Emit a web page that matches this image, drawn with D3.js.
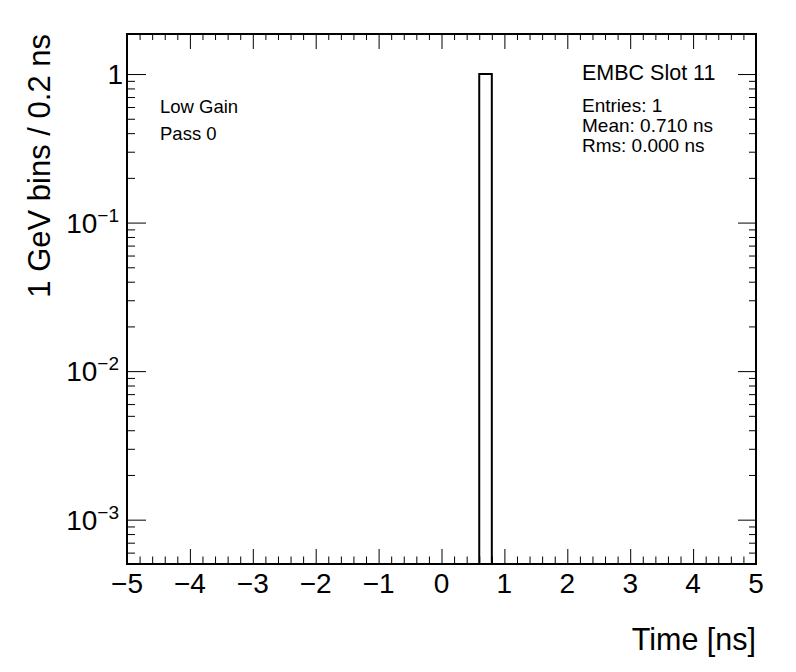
<!DOCTYPE html>
<html>
<head>
<meta charset="utf-8">
<script src="https://cdn.jsdelivr.net/npm/d3@7"></script>
<style>
  body { margin: 0; background: #fff; }
  svg { display: block; font-family: "Liberation Sans", Arial, Helvetica, sans-serif; }
  .frame { fill: none; stroke: #000; stroke-width: 2; }
  .axis path { display: none; }
  .axis line { stroke: #000; stroke-width: 1; }
</style>
</head>
<body>
<svg id="chart" width="796" height="672"></svg>
<script>
// histogram: 50 bins of 0.2 ns from -5 to 5, only one bin filled
const binStarts = [0.6]
const binEnds = [0.8]
const binCounts = [1]

const xMajorTicks = [-5, -4, -3, -2, -1, 0, 1, 2, 3, 4, 5]
const yDecades = [-3, -2, -1, 0]
const xDomain = [-5, 5]
const yDomain = [0.000503, 1.86]

const labelLines = ['Low Gain', 'Pass 0']
const statsTitle = 'EMBC Slot 11'
const statsLines = ['Entries: 1', 'Mean: 0.710 ns', 'Rms: 0.000 ns']

const xTitle = 'Time [ns]'
const yTitle = '1 GeV bins / 0.2 ns'

const margin = { left: 127, right: 40, top: 34, bottom: 108 }
const width = 796
const height = 672

const svg = d3.select('#chart')

const xScale = d3.scaleLinear().domain(xDomain).range([margin.left, width - margin.right])
const yScale = d3.scaleLog().domain(yDomain).range([height - margin.bottom, margin.top])

const x0 = xScale.range()[0], x1 = xScale.range()[1]
const yBot = yScale.range()[0], yTop = yScale.range()[1]

// minor ticks
const xMinor = d3.range(-25, 26).map((i) => i / 5).filter((v) => !Number.isInteger(v))
const yMajor = yDecades.map((p) => Math.pow(10, p))
const yMinor = []
for (let p = -4; p <= 0; p++) {
  for (let m = 2; m <= 9; m++) {
    const v = m * Math.pow(10, p)
    if (v >= yDomain[0] && v <= yDomain[1]) yMinor.push(v)
  }
}

function tickAxis(axisFn, scale, values, size, tx, ty) {
  svg.append('g')
    .attr('class', 'axis')
    .attr('transform', `translate(${tx}, ${ty})`)
    .call(axisFn(scale).tickValues(values).tickSize(size).tickFormat(''))
}

// bottom & top ticks (pointing inside)
tickAxis(d3.axisBottom, xScale, xMajorTicks, -15, 0, yBot)
tickAxis(d3.axisBottom, xScale, xMinor, -7.5, 0, yBot)
tickAxis(d3.axisTop, xScale, xMajorTicks, -15, 0, yTop)
tickAxis(d3.axisTop, xScale, xMinor, -6, 0, yTop)

// left & right ticks
tickAxis(d3.axisLeft, yScale, yMajor, -19, x0, 0)
tickAxis(d3.axisLeft, yScale, yMinor, -8, x0, 0)
tickAxis(d3.axisRight, yScale, yMajor, -18, x1, 0)
tickAxis(d3.axisRight, yScale, yMinor, -7, x1, 0)

// histogram bars (outline)
svg.append('g')
  .selectAll('path')
  .data(binStarts.map((s, i) => ({ s, e: binEnds[i], c: binCounts[i] })))
  .join('path')
  .attr('d', (d) => `M${xScale(d.s)},${yBot} V${yScale(d.c)} H${xScale(d.e)} V${yBot}`)
  .attr('fill', 'none')
  .attr('stroke', '#000')
  .attr('stroke-width', 2)

// frame
svg.append('rect')
  .attr('class', 'frame')
  .attr('x', x0)
  .attr('y', yTop)
  .attr('width', x1 - x0)
  .attr('height', yBot - yTop)

// x tick labels
svg.append('g')
  .selectAll('text')
  .data(xMajorTicks)
  .join('text')
  .attr('x', (d) => xScale(d))
  .attr('y', yBot + 29)
  .attr('text-anchor', 'middle')
  .attr('font-size', 28)
  .text((d) => d3.format('d')(d))

// y tick labels
const yLabels = svg.append('g')
  .selectAll('text')
  .data(yDecades)
  .join('text')
  .attr('x', (d) => (d === 0 ? x0 - 4 : x0 - 8))
  .attr('y', (d) => yScale(Math.pow(10, d)) + 10)
  .attr('text-anchor', 'end')
  .attr('font-size', 28)

yLabels.filter((d) => d === 0).text('1')
yLabels.filter((d) => d !== 0).each(function (d) {
  const t = d3.select(this)
  t.append('tspan').text('10')
  t.append('tspan').attr('font-size', 19).attr('dy', -11).text('\u2212' + Math.abs(d))
})

// axis titles
svg.append('text')
  .attr('x', x1)
  .attr('y', 650)
  .attr('text-anchor', 'end')
  .attr('font-size', 30.5)
  .text(xTitle)

svg.append('text')
  .attr('transform', `translate(50, ${yTop}) rotate(-90)`)
  .attr('text-anchor', 'end')
  .attr('font-size', 31)
  .text(yTitle)

// annotations
svg.append('g')
  .selectAll('text')
  .data(labelLines)
  .join('text')
  .attr('x', 160)
  .attr('y', (d, i) => 113 + i * 27)
  .attr('font-size', 18.5)
  .text((d) => d)

svg.append('text')
  .attr('x', 582)
  .attr('y', 80)
  .attr('font-size', 21.5)
  .text(statsTitle)

svg.append('g')
  .selectAll('text')
  .data(statsLines)
  .join('text')
  .attr('x', 582)
  .attr('y', (d, i) => 112 + i * 20)
  .attr('font-size', 19)
  .text((d) => d)
</script>
</body>
</html>
